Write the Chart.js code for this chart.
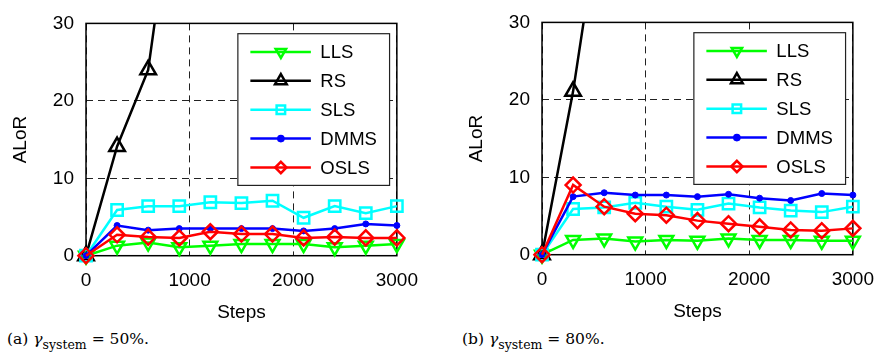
<!DOCTYPE html>
<html>
<head>
<meta charset="utf-8">
<script src="https://cdn.jsdelivr.net/npm/chart.js@4.4.1/dist/chart.umd.min.js"></script>
<style>
  body { margin: 0; background: #fff; width: 888px; height: 363px; overflow: hidden; position: relative; }
  canvas { position: absolute; }
  #chartA { left: 0; top: 0; }
  #chartB { left: 456px; top: -1px; }
  .caption { position: absolute; top: 330px; font: 15.5px "DejaVu Serif", serif; white-space: nowrap; color: #000; }
  .caption sub { font-size: 12.5px; vertical-align: -5px; line-height: 0; }
</style>
</head>
<body>
<canvas id="chartA" width="432" height="330"></canvas>
<canvas id="chartB" width="432" height="330"></canvas>
<div class="caption" style="left:7px">(a) <i>γ</i><sub>system</sub> = 50%.</div>
<div class="caption" style="left:462px">(b) <i>γ</i><sub>system</sub> = 80%.</div>
<script>
// x positions (steps) shared by both panels
const steps = [0, 300, 600, 900, 1200, 1500, 1800, 2100, 2400, 2700, 3000];
const xTicks = [0, 1000, 2000, 3000];
const yTicks = [0, 10, 20, 30];

// panel (a): gamma_system = 50%
const llsA  = [0, 1.3, 1.7, 1.1, 1.3, 1.5, 1.5, 1.5, 1.1, 1.3, 1.5];
const rsA   = [0, 14.1, 24.0, 53];
const slsA  = [0, 5.9, 6.4, 6.4, 6.9, 6.8, 7.1, 4.9, 6.4, 5.5, 6.4];
const dmmsA = [0, 3.9, 3.3, 3.5, 3.5, 3.5, 3.5, 3.2, 3.5, 4.1, 3.9];
const oslsA = [0, 2.7, 2.4, 2.3, 3.1, 2.8, 2.8, 2.3, 2.4, 2.3, 2.3];

// panel (b): gamma_system = 80%
const llsB  = [0, 1.9, 2.1, 1.7, 1.9, 1.8, 2.1, 1.9, 1.9, 1.8, 1.8];
const rsB   = [0, 21.1, 47.5];
const slsB  = [0, 5.9, 6.1, 6.7, 6.2, 5.8, 6.6, 6.1, 5.7, 5.5, 6.2];
const dmmsB = [0, 7.5, 8.0, 7.7, 7.7, 7.5, 7.8, 7.3, 7.0, 7.9, 7.7];
const oslsB = [0, 9.0, 6.2, 5.3, 5.1, 4.4, 4.0, 3.6, 3.2, 3.1, 3.4];

const seriesNames = ['LLS', 'RS', 'SLS', 'DMMS', 'OSLS'];
const seriesColors = ['#00ff00', '#000000', '#00ffff', '#0000ff', '#ff0000'];
const markerStyles = ['triangle', 'triangle', 'rect', 'circle', 'rectRot'];
const markerRotation = [180, 0, 0, 0, 0];
const markerRadius = [8, 9, 8, 3, 7.5];

const FONT = '"Liberation Sans", Arial, sans-serif';

// box round the plot area, drawn under the lines like matlab
const framePlugin = {
    id: 'frame',
    beforeDatasetsDraw(chart) {
        const a = chart.chartArea;
        const ctx = chart.ctx;
        ctx.save();
        ctx.strokeStyle = '#000';
        ctx.lineWidth = 1.5;
        ctx.strokeRect(a.left, a.top, a.right - a.left, a.bottom - a.top);
        ctx.restore();
    }
};

function drawMarker(ctx, style, x, y, r, rotation, color, filled) {
    if (Chart.helpers && Chart.helpers.drawPoint) {
        ctx.fillStyle = filled ? color : 'rgba(0,0,0,0)';
        ctx.strokeStyle = color;
        Chart.helpers.drawPoint(ctx, { pointStyle: style, radius: r, rotation: rotation, borderWidth: ctx.lineWidth }, x, y);
        return;
    }
    ctx.beginPath();
    ctx.arc(x, y, r, 0, Math.PI * 2);
    if (filled) { ctx.fillStyle = color; ctx.fill(); }
    ctx.strokeStyle = color;
    ctx.stroke();
}

// legend with line + marker, like the matlab one
const legendPlugin = {
    id: 'lineLegend',
    afterDraw(chart) {
        const a = chart.chartArea;
        const ctx = chart.ctx;
        const bx = a.right - 159, by = a.top + 10.3, bw = 151.7, bh = 151.7;
        ctx.save();
        ctx.fillStyle = '#fff';
        ctx.fillRect(bx, by, bw, bh);
        ctx.strokeStyle = '#222';
        ctx.lineWidth = 1.2;
        ctx.strokeRect(bx, by, bw, bh);
        chart.data.datasets.forEach((ds, i) => {
            const y = a.top + 28.5 + i * 28.9;
            ctx.lineWidth = 2.5;
            ctx.strokeStyle = ds.borderColor;
            ctx.beginPath();
            ctx.moveTo(bx + 12.5, y);
            ctx.lineTo(bx + 73, y);
            ctx.stroke();
            const r = markerStyles[i] === 'circle' ? 2.6 : markerRadius[i] * 0.75;
            drawMarker(ctx, markerStyles[i], bx + 43, y, r, markerRotation[i], ds.borderColor, markerStyles[i] === 'circle');
            ctx.fillStyle = '#000';
            ctx.font = '18.5px ' + FONT;
            ctx.textBaseline = 'middle';
            ctx.textAlign = 'left';
            ctx.fillText(ds.label, bx + 82.5, y + 1);
        });
        ctx.restore();
    }
};

function makePanel(canvasId, seriesValues) {
    const datasets = seriesValues.map((values, i) => ({
        label: seriesNames[i],
        data: values.map((v, k) => ({ x: steps[k], y: v })),
        borderColor: seriesColors[i],
        borderWidth: 2.5,
        pointStyle: markerStyles[i],
        pointRotation: markerRotation[i],
        pointRadius: markerRadius[i],
        pointBorderWidth: markerStyles[i] === 'circle' ? 1 : 2.5,
        pointBorderColor: seriesColors[i],
        pointBackgroundColor: markerStyles[i] === 'circle' ? seriesColors[i] : 'rgba(0,0,0,0)',
        tension: 0,
        order: seriesNames.length - i,
        clip: { left: 14, top: 0, right: 14, bottom: 14 }
    }));

    const ctx = document.getElementById(canvasId).getContext('2d');
    return new Chart(ctx, {
        type: 'line',
        data: { datasets: datasets },
        options: {
            responsive: false,
            animation: false,
            devicePixelRatio: 1,
            layout: { padding: { left: 0, right: 23, top: 14, bottom: 0 } },
            plugins: { legend: { display: false }, tooltip: { enabled: false } },
            scales: {
                x: {
                    type: 'linear',
                    min: 0,
                    max: 3000,
                    afterBuildTicks: axis => { axis.ticks = xTicks.map(v => ({ value: v })); },
                    afterFit: axis => { axis.height = 74.3; },
                    grid: { color: '#222', lineWidth: 1, drawTicks: false },
                    border: { display: false, dash: [7, 5] },
                    ticks: { color: '#000', padding: 14, maxRotation: 0, font: { size: 19, family: FONT }, callback: v => String(v) },
                    title: { display: true, text: 'Steps', color: '#000', padding: { top: 0, bottom: 5.5 }, font: { size: 19, family: FONT } }
                },
                y: {
                    min: 0,
                    max: 30,
                    afterBuildTicks: axis => { axis.ticks = yTicks.map(v => ({ value: v })); },
                    afterFit: axis => { axis.width = 86; },
                    grid: { color: '#222', lineWidth: 1, drawTicks: false },
                    border: { display: false, dash: [7, 5] },
                    ticks: { color: '#000', padding: 12, font: { size: 19, family: FONT }, callback: v => String(v) },
                    title: { display: true, text: 'ALoR', color: '#000', padding: { top: 9.3, bottom: 0 }, font: { size: 19, family: FONT } }
                }
            }
        },
        plugins: [framePlugin, legendPlugin]
    });
}

makePanel('chartA', [llsA, rsA, slsA, dmmsA, oslsA]);
makePanel('chartB', [llsB, rsB, slsB, dmmsB, oslsB]);
</script>
</body>
</html>
